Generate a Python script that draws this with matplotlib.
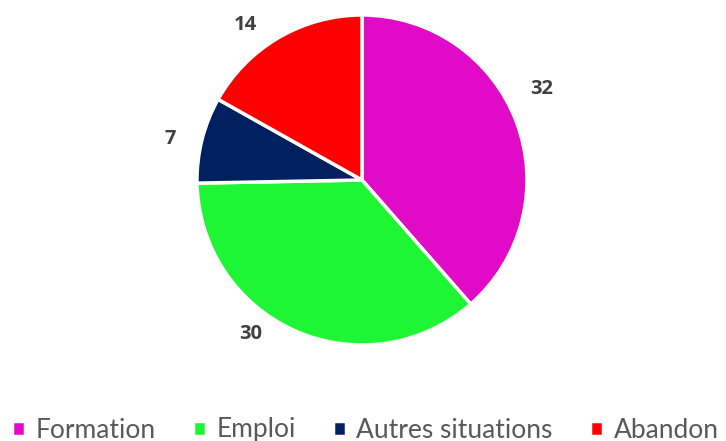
import numpy as np
import matplotlib.pyplot as plt

categories = ["Formation", "Emploi", "Autres situations", "Abandon"]
values = [32, 30, 7, 14]
colors = ["#E10AC6", "#1EF535", "#002060", "#FF0000"]

plt.rcParams['font.family'] = ['Lato', 'DejaVu Sans']

fig = plt.figure(figsize=(7.26, 4.41), dpi=100)
W, H = 726, 441
cx, cy, r = 362, 180, 165
ax = fig.add_axes([(cx - r) / W, (H - cy - r) / H, 2 * r / W, 2 * r / H])

wedges, _ = ax.pie(values, colors=colors, startangle=90, counterclock=False,
                   wedgeprops=dict(edgecolor="white", linewidth=2.5))
ax.set_xlim(-1, 1)
ax.set_ylim(-1, 1)
ax.set_aspect("auto")

# data labels outside the wedges, nudged like the original layout
shift = [6.4, -12.1, 2.1, 6.5]
dist = [1.22, 1.15, 1.19, 1.175]
for w, v, s, d in zip(wedges, values, shift, dist):
    a = np.deg2rad((w.theta1 + w.theta2) / 2 + s)
    ax.text(d * np.cos(a), d * np.sin(a), str(v), ha="center", va="center",
            fontsize=14.5, fontweight="bold", color="#404040", family="Open Sans")

fig.legend(wedges, categories, loc="center", bbox_to_anchor=(0.503, 1 - 430 / H),
           ncol=4, frameon=False, fontsize=19, handlelength=0.5, handleheight=0.5,
           handletextpad=0.4, columnspacing=1.4, labelcolor="#595959")

plt.savefig("out.png", dpi=100)
